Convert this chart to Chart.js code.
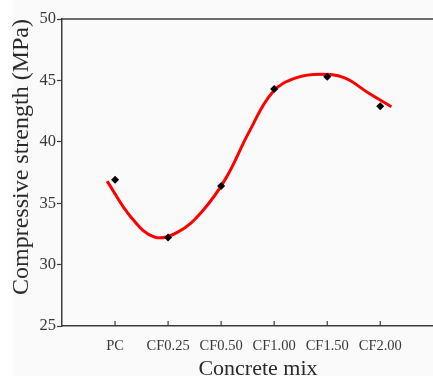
<!DOCTYPE html>
<html>
<head>
<meta charset="utf-8">
<script src="https://cdn.jsdelivr.net/npm/chart.js@4/dist/chart.umd.min.js"></script>
<style>
  html, body { margin: 0; padding: 0; background: #ffffff; }
  #wrap { width: 433px; height: 376px; overflow: hidden; position: relative; }
  canvas { display: block; }
</style>
</head>
<body>
<div id="wrap"><canvas id="c" width="458" height="376"></canvas></div>
<script>
// ---- Data ----
const categories = ["PC", "CF0.25", "CF0.50", "CF1.00", "CF1.50", "CF2.00"];
const strength = [36.9, 32.2, 36.4, 44.3, 45.3, 42.9];           // measured points (MPa)
const yTicks = [25, 30, 35, 40, 45, 50];

// fitted red curve at evenly spaced positions (1 = PC)
const curveX = [0.85, 1.297, 1.743, 2.19, 2.637, 3.083, 3.53, 3.977, 4.423, 4.87, 5.317, 5.763, 6.21];
const curveY = [36.8, 33.88, 32.25, 32.67, 34.31, 36.98, 40.83, 44.08, 45.22, 45.5, 45.22, 44.02, 42.86];

const axisColor = '#3c3c3c';
const serif = "'Liberation Serif', 'DejaVu Serif', serif";

const bgPlugin = {
  id: 'bg',
  beforeDraw(chart) {
    const ctx = chart.ctx;
    ctx.save();
    ctx.fillStyle = '#fafafa';
    ctx.fillRect(0, 0, chart.width, chart.height);
    ctx.fillStyle = '#ffffff';
    ctx.fillRect(0, 0, 13, chart.height);
    ctx.restore();
  }
};

const framePlugin = {
  id: 'frame',
  afterDraw(chart) {
    const ctx = chart.ctx;
    const a = chart.chartArea;
    const xs = chart.scales.x;
    ctx.save();
    ctx.strokeStyle = axisColor;
    ctx.lineWidth = 1.5;
    ctx.beginPath();
    ctx.moveTo(a.left, a.top);
    ctx.lineTo(a.right, a.top);
    ctx.stroke();
    ctx.lineWidth = 1.2;
    xs.ticks.forEach(t => {
      const px = xs.getPixelForValue(t.value);
      ctx.beginPath();
      ctx.moveTo(px, a.bottom);
      ctx.lineTo(px, a.bottom - 5);
      ctx.stroke();
    });
    ctx.restore();
  }
};

new Chart(document.getElementById('c'), {
  type: 'line',
  data: {
    datasets: [
      {
        label: 'Measured',
        type: 'scatter',
        data: categories.map((c, i) => ({ x: i + 1, y: strength[i] })),
        pointStyle: 'rectRot',
        pointRadius: 4,
        backgroundColor: '#000000',
        borderColor: '#000000',
        borderWidth: 0,
        showLine: false,
        order: 0
      },
      {
        label: 'Fit',
        data: curveX.map((x, i) => ({ x: x, y: curveY[i] })),
        borderColor: '#ff0000',
        borderWidth: 3,
        pointRadius: 0,
        fill: false,
        tension: 0.4,
        order: 1
      }
    ]
  },
  options: {
    responsive: false,
    animation: false,
    devicePixelRatio: 1,
    layout: { padding: { top: 19, left: 0, right: 0, bottom: 0 } },
    plugins: { legend: { display: false }, tooltip: { enabled: false } },
    scales: {
      x: {
        type: 'linear',
        position: 'bottom',
        min: 0,
        max: 7.39,
        afterBuildTicks: s => { s.ticks = categories.map((c, i) => ({ value: i + 1 })); },
        afterFit: s => { s.height = 50; },
        ticks: {
          autoSkip: false,
          maxRotation: 0,
          padding: 11,
          color: '#3a3a3a',
          font: { family: serif, size: 14.5 },
          callback: v => categories[v - 1] ?? ''
        },
        grid: { display: false, drawTicks: false },
        border: { display: true, color: axisColor, width: 1.5 },
        title: {
          display: true,
          text: 'Concrete mix',
          color: '#2a2a2a',
          font: { family: serif, size: 22, lineHeight: '14px' },
          padding: 0
        }
      },
      y: {
        min: 25,
        max: 50,
        afterBuildTicks: s => { s.ticks = yTicks.map(v => ({ value: v })); },
        afterFit: s => { s.width = 62; },
        ticks: {
          padding: 1,
          color: '#3a3a3a',
          font: { family: serif, size: 16.5 }
        },
        grid: { display: true, drawOnChartArea: false, drawTicks: true, tickLength: 5, tickColor: axisColor, tickWidth: 1.2 },
        border: { display: true, color: axisColor, width: 1.5 },
        title: {
          display: true,
          text: 'Compressive strength (MPa)',
          align: 'end',
          color: '#2a2a2a',
          font: { family: serif, size: 24 },
          padding: { top: 7, bottom: 0 }
        }
      }
    }
  },
  plugins: [bgPlugin, framePlugin]
});
</script>
</body>
</html>
